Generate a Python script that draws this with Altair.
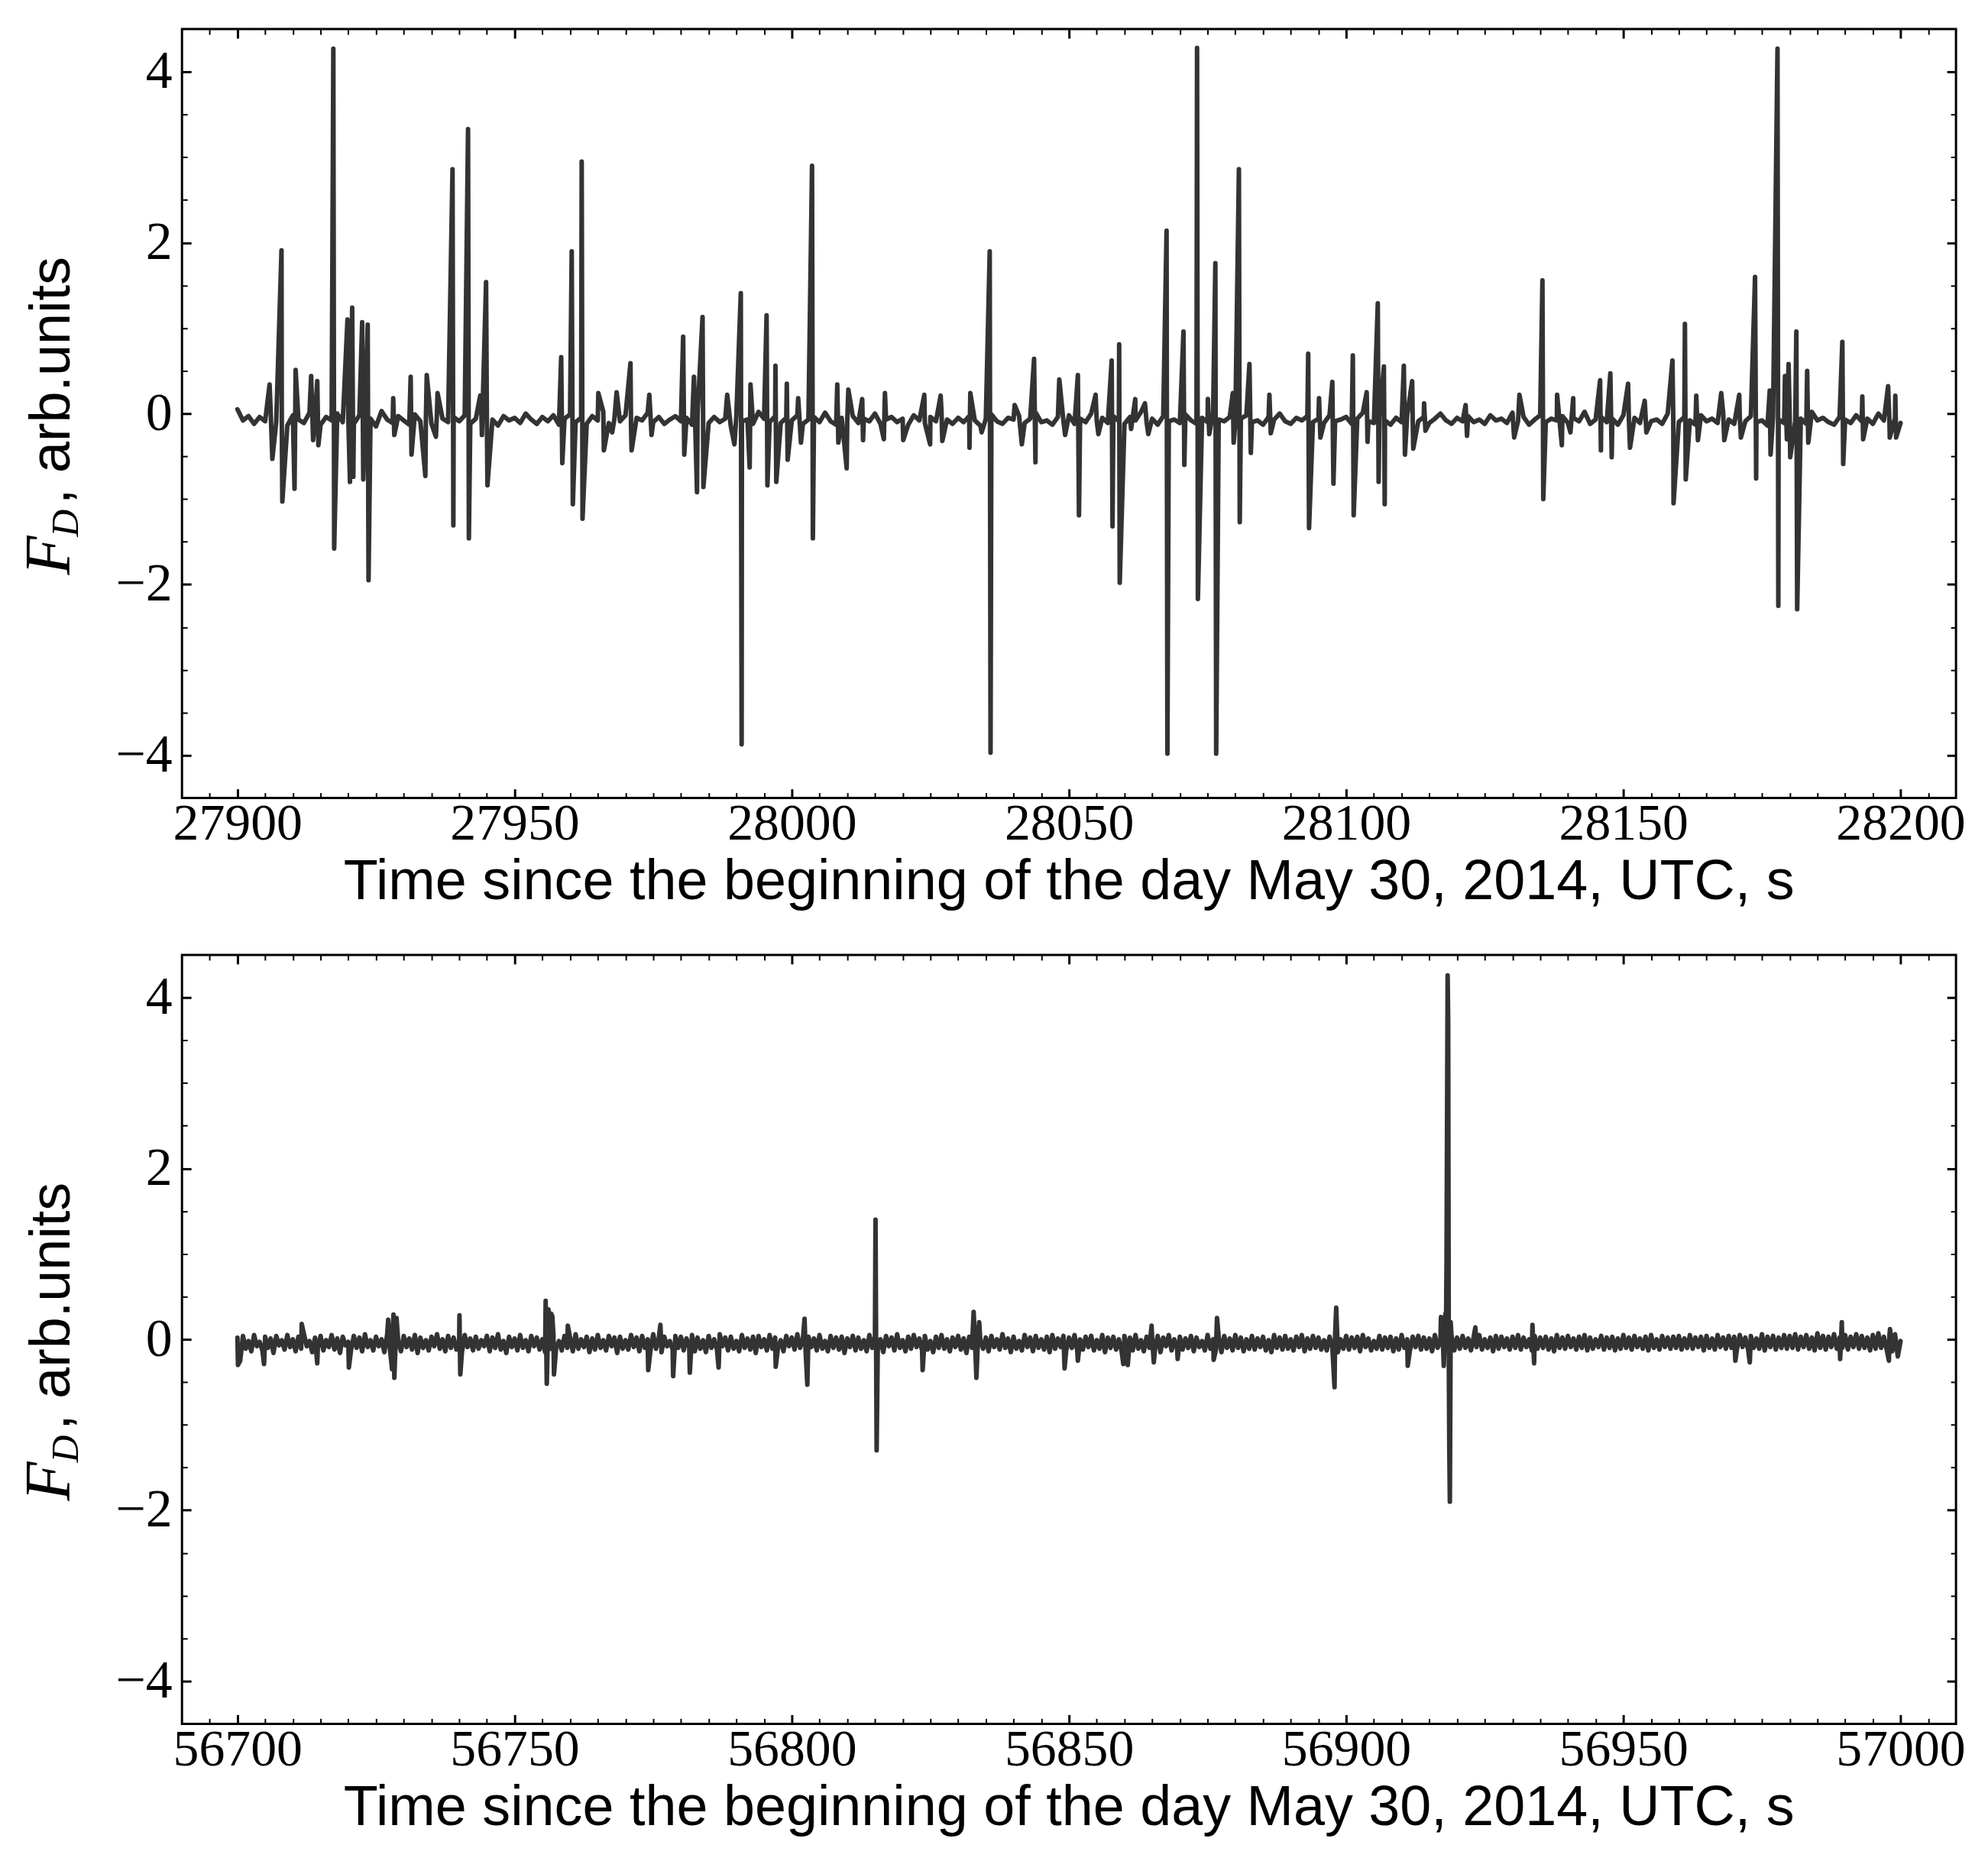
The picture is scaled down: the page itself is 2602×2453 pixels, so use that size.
import altair as alt
import pandas as pd

X_TITLE = "Time since the beginning of the day May 30, 2014, UTC, s"
Y_TICKS = [-4, -2, 0, 2, 4]
Y_MINOR = [-3.5, -3, -2.5, -1.5, -1, -0.5, 0.5, 1, 1.5, 2.5, 3, 3.5]

TOP_DOMAIN = [27890, 28210]
TOP_TICKS = [27900, 27950, 28000, 28050, 28100, 28150, 28200]
BOT_DOMAIN = [56690, 57010]
BOT_TICKS = [56700, 56750, 56800, 56850, 56900, 56950, 57000]

# ---- top panel: background signal, 1 s samples starting at 27900 s
TOP_T0 = 27900
TOP_STEP = 1.0
TOP_BASE = [
    0.05, -0.08, -0.03, -0.12, -0.04, -0.09, 0.02, -0.1, -0.05, -0.14, -0.02, -0.07, -0.11, 0.01, -0.06, -0.13, -0.04, -0.08, 0.0, -0.1,
    -0.05, -0.12, -0.02, -0.09, -0.06, -0.15, 0.03, -0.07, -0.11, -0.03, -0.08, -0.13, -0.01, -0.09, -0.05, -0.12, 0.02, -0.06, -0.1, -0.04,
    -0.09, -0.02, -0.12, -0.06, 0.01, -0.1, -0.07, -0.14, -0.03, -0.08, -0.05, -0.11, 0.0, -0.07, -0.12, -0.04, -0.09, -0.02, -0.13, -0.06,
    -0.01, -0.1, -0.05, -0.12, -0.03, -0.08, 0.02, -0.11, -0.06, -0.09, -0.02, -0.14, -0.05, -0.08, 0.01, -0.1, -0.04, -0.12, -0.07, -0.03,
    -0.09, -0.05, -0.13, 0.0, -0.08, -0.11, -0.04, -0.1, -0.06, -0.15, -0.02, -0.09, -0.07, -0.12, 0.02, -0.06, -0.1, -0.03, -0.11, -0.05,
    -0.08, -0.02, -0.12, -0.07, -0.04, -0.1, 0.01, -0.09, -0.13, -0.05, -0.08, -0.03, -0.11, -0.06, -0.09, 0.0, -0.12, -0.07, -0.04, -0.1,
    -0.06, -0.13, -0.02, -0.08, -0.11, -0.04, -0.09, 0.02, -0.07, -0.12, -0.05, -0.1, -0.03, -0.08, -0.14, -0.06, -0.01, -0.09, -0.12, -0.05,
    -0.07, -0.03, -0.11, -0.06, 0.01, -0.1, -0.08, -0.13, -0.04, -0.09, -0.02, -0.12, -0.06, -0.1, 0.0, -0.08, -0.05, -0.11, -0.03, -0.09,
    -0.12, -0.04, -0.08, 0.02, -0.1, -0.06, -0.13, -0.03, -0.09, -0.07, -0.11, -0.01, -0.08, -0.12, -0.05, -0.1, 0.01, -0.07, -0.09, -0.04,
    -0.11, -0.06, -0.02, -0.1, -0.08, -0.13, -0.04, -0.07, 0.0, -0.09, -0.12, -0.05, -0.08, -0.03, -0.1, -0.06, -0.11, -0.02, -0.09, -0.07,
    -0.04, -0.12, -0.06, 0.01, -0.09, -0.11, -0.03, -0.08, -0.13, -0.05, -0.1, -0.02, -0.07, -0.09, -0.04, -0.11, -0.06, 0.0, -0.08, -0.12,
    -0.05, -0.09, -0.03, -0.1, -0.07, -0.12, -0.02, -0.08, -0.06, -0.11, 0.01, -0.09, -0.04, -0.13, -0.07, -0.02, -0.1, -0.06, -0.08, -0.03,
    -0.11, -0.05, -0.09, 0.02, -0.12, -0.07, -0.04, -0.1, -0.06, -0.13, -0.02, -0.08, -0.05, -0.11, -0.03, -0.09, -0.07, -0.12, 0.0, -0.06,
    -0.1, -0.04, -0.08, -0.13, -0.02, -0.09, -0.06, -0.11, 0.01, -0.07, -0.12, -0.05, -0.09, -0.03, -0.1, -0.08, -0.14, -0.04, -0.07, -0.11,
    -0.03, -0.09, -0.06, -0.12, 0.02, -0.08, -0.05, -0.1, -0.13, -0.04, -0.07, -0.11, -0.02, -0.09, -0.06, -0.12, 0.0, -0.08, -0.1, -0.05,
    -0.11,
]

# ---- top panel: impulses (time s, value)
TOP_SPIKES = [
    (27905.8, 0.34), (27906.3, -0.53), (27907.95, 1.91), (27908.1, -1.03), (27910.3, -0.88), (27910.5, 0.51),
    (27913.3, 0.44), (27913.65, -0.31), (27914.4, 0.38), (27914.6, -0.37), (27917.3, 4.27), (27917.45, -1.58),
    (27919.85, 1.10), (27920.3, -0.80), (27920.7, 1.24), (27920.9, -0.74), (27922.5, 1.07), (27922.7, -0.77),
    (27923.5, 1.04), (27923.65, -1.95), (27928.1, 0.18), (27928.3, -0.25), (27931.25, 0.43), (27931.4, -0.48),
    (27933.9, -0.73), (27934.15, 0.45), (27935.8, -0.27), (27936.1, 0.24), (27938.8, 2.86), (27938.95, -1.31),
    (27941.6, 3.33), (27941.75, -1.46), (27943.8, 0.21), (27944.1, -0.25), (27944.85, 1.54), (27945.1, -0.84),
    (27958.4, 0.66), (27958.6, -0.58), (27960.3, 1.90), (27960.5, -1.06), (27962.1, 2.95), (27962.25, -1.23),
    (27965.1, 0.24), (27966.1, -0.43), (27967.6, -0.22), (27968.4, 0.25), (27970.9, 0.59), (27971.1, -0.43),
    (27974.3, 0.22), (27974.7, -0.25), (27980.4, 0.90), (27980.6, -0.48), (27982.35, 0.43), (27982.9, -0.92),
    (27983.9, 1.13), (27984.05, -0.86), (27988.35, 0.22), (27989.65, -0.36), (27990.8, 1.41), (27990.95, -3.87),
    (27992.4, -0.63), (27992.55, 0.34), (27995.45, 1.15), (27995.6, -0.84), (27997.05, 0.56), (27997.2, -0.80),
    (27999.1, 0.35), (27999.25, -0.54), (28001.15, 0.18), (28001.65, -0.34), (28003.65, 2.90), (28003.8, -1.46),
    (28008.2, 0.34), (28008.4, -0.34), (28009.9, -0.64), (28010.2, 0.28), (28012.7, 0.17), (28012.85, -0.31),
    (28016.6, -0.30), (28016.8, 0.24), (28020.1, -0.31), (28023.9, 0.22), (28024.95, -0.36), (28026.85, 0.21),
    (28027.15, -0.32), (28032.05, -0.40), (28032.2, 0.24), (28034.25, -0.22), (28035.7, 1.90), (28035.85, -3.97),
    (28040.2, 0.10), (28041.5, -0.36), (28043.7, 0.64), (28043.95, -0.57), (28048.25, 0.40), (28049.3, -0.25),
    (28051.6, 0.45), (28051.8, -1.19), (28054.8, 0.22), (28055.3, -0.24), (28057.7, 0.62), (28057.85, -1.32),
    (28059.05, 0.81), (28059.15, -1.98), (28061.2, -0.18), (28061.95, 0.17), (28063.7, 0.12), (28064.3, -0.24),
    (28067.6, 2.14), (28067.75, -3.98), (28070.65, 0.96), (28070.8, -0.60), (28073.1, 4.28), (28073.25, -2.17),
    (28075.05, 0.17), (28075.3, -0.24), (28076.4, 1.76), (28076.55, -3.98), (28079.55, 0.24), (28079.7, -0.34),
    (28080.65, 2.86), (28080.8, -1.27), (28082.55, 0.58), (28082.8, -0.46), (28086.15, 0.22), (28086.4, -0.23),
    (28093.15, 0.70), (28093.3, -1.34), (28095.1, 0.18), (28095.35, -0.28), (28097.5, 0.37), (28097.7, -0.82),
    (28101.2, 0.68), (28101.35, -1.19), (28103.7, 0.25), (28103.85, -0.33), (28105.7, 1.29), (28105.85, -0.80),
    (28106.8, 0.55), (28106.95, -1.06), (28110.4, 0.56), (28110.6, -0.48), (28111.9, 0.38), (28112.1, -0.41),
    (28114.05, 0.12), (28114.3, -0.20), (28121.55, 0.10), (28121.8, -0.26), (28130.3, -0.28), (28131.25, 0.22),
    (28135.4, 1.56), (28135.55, -1.00), (28138.05, 0.22), (28138.9, -0.37), (28140.45, -0.22), (28140.95, 0.18),
    (28145.8, 0.39), (28145.95, -0.43), (28147.65, 0.47), (28147.9, -0.51), (28150.85, 0.35), (28151.2, -0.40),
    (28153.85, 0.15), (28154.15, -0.22), (28158.85, 0.62), (28159.05, -1.05), (28161.1, 1.05), (28161.25, -0.77),
    (28163.15, 0.21), (28163.45, -0.31), (28167.65, 0.24), (28168.2, -0.31), (28170.9, 0.22), (28171.2, -0.28),
    (28173.75, 1.60), (28173.95, -0.76), (28176.4, 0.27), (28176.55, -0.48), (28177.8, 4.27), (28177.95, -2.25),
    (28179.15, 0.44), (28179.5, -0.30), (28179.8, 0.58), (28180.1, -0.51), (28181.2, 0.96), (28181.35, -2.29),
    (28183.15, 0.50), (28183.35, -0.34), (28189.5, 0.84), (28189.65, -0.59), (28193.1, 0.20), (28193.25, -0.30),
    (28197.75, 0.32), (28198.05, -0.28), (28199.05, 0.21), (28199.2, -0.28),
]

# ---- bottom panel: background signal, 0.5 s samples starting at 56700 s
BOT_T0 = 56700
BOT_STEP = 0.5
BOT_BASE = [
    0.02, -0.25, 0.04, -0.11, -0.02, -0.14, 0.05, -0.08, -0.03, -0.13, 0.03, -0.1, 0.01, -0.16, 0.04, -0.07, -0.01, -0.12, 0.05, -0.09,
    0.0, -0.14, 0.03, -0.11, 0.06, -0.08, -0.02, -0.15, 0.02, -0.1, 0.04, -0.13, -0.01, -0.09, 0.05, -0.12, 0.01, -0.16, 0.03, -0.07,
    -0.03, -0.12, 0.04, -0.1, 0.02, -0.14, 0.06, -0.09, -0.01, -0.13, 0.03, -0.08, 0.0, -0.15, 0.05, -0.11, 0.02, -0.1, -0.02, -0.14,
    0.04, -0.09, 0.01, -0.12, 0.05, -0.16, 0.02, -0.1, -0.01, -0.13, 0.03, -0.08, 0.06, -0.11, 0.0, -0.14, 0.04, -0.1, 0.02, -0.12,
    -0.02, -0.15, 0.05, -0.09, 0.01, -0.13, 0.03, -0.11, -0.01, -0.08, 0.04, -0.14, 0.02, -0.1, 0.06, -0.12, -0.02, -0.16, 0.03, -0.09,
    0.01, -0.13, 0.05, -0.1, -0.01, -0.14, 0.04, -0.08, 0.02, -0.12, 0.0, -0.15, 0.03, -0.11, 0.05, -0.09, -0.02, -0.13, 0.04, -0.1,
    0.02, -0.14, 0.06, -0.11, 0.0, -0.09, 0.03, -0.15, 0.01, -0.12, 0.05, -0.1, -0.01, -0.13, 0.04, -0.08, 0.02, -0.16, 0.03, -0.11,
    -0.01, -0.12, 0.05, -0.09, 0.02, -0.14, 0.04, -0.1, 0.0, -0.13, 0.06, -0.11, 0.01, -0.15, 0.03, -0.08, -0.02, -0.12, 0.04, -0.1,
    0.03, -0.13, 0.01, -0.09, 0.05, -0.14, 0.02, -0.11, -0.01, -0.15, 0.04, -0.1, 0.0, -0.12, 0.06, -0.08, 0.02, -0.13, 0.03, -0.11,
    -0.02, -0.14, 0.05, -0.1, 0.01, -0.12, 0.03, -0.16, 0.04, -0.09, 0.0, -0.13, 0.05, -0.11, 0.02, -0.1, -0.01, -0.14, 0.04, -0.08,
    0.02, -0.12, 0.06, -0.1, 0.0, -0.15, 0.03, -0.09, 0.01, -0.13, 0.05, -0.11, -0.02, -0.14, 0.04, -0.1, 0.02, -0.12, 0.03, -0.16,
    0.01, -0.09, 0.04, -0.13, 0.02, -0.11, -0.01, -0.14, 0.05, -0.1, 0.03, -0.12, 0.0, -0.15, 0.04, -0.08, 0.02, -0.13, 0.06, -0.1,
    -0.01, -0.14, 0.03, -0.11, 0.05, -0.09, 0.01, -0.13, 0.04, -0.12, -0.02, -0.15, 0.03, -0.1, 0.05, -0.11, 0.0, -0.14, 0.02, -0.09,
    0.04, -0.12, 0.01, -0.16, 0.03, -0.1, 0.05, -0.13, -0.01, -0.11, 0.02, -0.14, 0.04, -0.09, 0.0, -0.12, 0.06, -0.1, 0.01, -0.15,
    0.03, -0.11, -0.02, -0.13, 0.05, -0.09, 0.02, -0.14, 0.04, -0.1, 0.0, -0.12, 0.03, -0.15, 0.05, -0.11, 0.01, -0.09, 0.04, -0.13,
    0.02, -0.1, 0.05, -0.14, 0.0, -0.12, 0.03, -0.09, 0.04, -0.13, -0.01, -0.11, 0.05, -0.15, 0.02, -0.1, 0.03, -0.12, 0.0, -0.14,
    0.04, -0.09, 0.02, -0.13, 0.05, -0.11, -0.01, -0.14, 0.03, -0.1, 0.01, -0.12, 0.04, -0.15, 0.02, -0.08, 0.05, -0.13, 0.0, -0.11,
    0.03, -0.12, 0.01, -0.1, 0.04, -0.14, 0.02, -0.09, -0.02, -0.13, 0.05, -0.11, 0.0, -0.12, 0.03, -0.15, 0.04, -0.1, 0.01, -0.13,
    0.05, -0.1, 0.02, -0.14, 0.0, -0.11, 0.04, -0.12, 0.01, -0.09, 0.03, -0.13, -0.01, -0.15, 0.05, -0.1, 0.02, -0.12, 0.04, -0.11,
    0.0, -0.13, 0.03, -0.09, 0.05, -0.14, 0.01, -0.11, 0.04, -0.1, 0.02, -0.12, -0.01, -0.13, 0.03, -0.09, 0.05, -0.15, 0.0, -0.11,
    0.04, -0.12, 0.02, -0.1, 0.03, -0.14, 0.05, -0.09, 0.01, -0.13, -0.02, -0.11, 0.04, -0.12, 0.02, -0.1, 0.03, -0.14, 0.01, -0.12,
    0.05, -0.1, 0.0, -0.13, 0.03, -0.09, 0.04, -0.12, 0.02, -0.11, 0.01, -0.14, 0.05, -0.1, -0.01, -0.12, 0.03, -0.09, 0.04, -0.13,
    0.02, -0.11, 0.04, -0.1, 0.01, -0.13, 0.03, -0.09, 0.05, -0.12, 0.0, -0.1, 0.02, -0.14, 0.04, -0.11, 0.03, -0.09, 0.01, -0.12,
    0.03, -0.1, 0.05, -0.12, 0.02, -0.09, 0.0, -0.13, 0.04, -0.11, 0.02, -0.1, 0.03, -0.12, 0.01, -0.14, 0.05, -0.1, 0.02, -0.11,
    0.04, -0.09, 0.01, -0.12, 0.03, -0.1, 0.05, -0.13, 0.02, -0.11, 0.0, -0.09, 0.04, -0.12, 0.02, -0.1, 0.03, -0.13, 0.01, -0.11,
    0.05, -0.1, 0.02, -0.12, 0.04, -0.09, 0.01, -0.11, 0.03, -0.13, 0.05, -0.1, 0.0, -0.12, 0.04, -0.09, 0.02, -0.11, 0.03, -0.1,
    0.04, -0.12, 0.01, -0.1, 0.05, -0.11, 0.02, -0.09, 0.03, -0.13, 0.04, -0.1, 0.01, -0.12, 0.05, -0.09, 0.02, -0.11, 0.04, -0.1,
    0.03, -0.11, 0.05, -0.09, 0.02, -0.12, 0.04, -0.1, 0.01, -0.11, 0.06, -0.13, 0.03, -0.09, 0.04, -0.12, 0.02, -0.1, 0.05, -0.11,
    0.04, -0.1, 0.06, -0.12, 0.03, -0.09, 0.05, -0.11, 0.02, -0.13, 0.07, -0.1, 0.04, -0.12, 0.03, -0.09, 0.06, -0.11, 0.02, -0.1,
    0.05, -0.12, 0.03, -0.09, 0.06, -0.11, 0.04, -0.1, 0.02, -0.13, 0.05, -0.11, 0.07, -0.1, 0.03, -0.12, 0.05, -0.14, 0.06, -0.2,
    -0.02,
]

# ---- bottom panel: impulses (time s, value)
BOT_SPIKES = [
    (56700.1, -0.30), (56704.8, -0.29), (56711.6, 0.18), (56714.4, -0.28), (56720.1, -0.33),
    (56727.2, 0.23), (56727.9, -0.35), (56728.15, 0.29), (56728.3, -0.45), (56728.7, 0.25),
    (56740.05, 0.28), (56740.2, -0.41), (56755.6, 0.45), (56755.8, -0.52), (56756.1, 0.35),
    (56756.6, 0.30), (56756.8, 0.27), (56757.1, -0.41), (56759.6, 0.16), (56774.1, -0.36),
    (56776.3, 0.17), (56778.6, -0.43), (56781.6, -0.39), (56786.8, -0.33), (56797.1, -0.32),
    (56802.3, 0.24), (56802.8, -0.53), (56815.1, 1.40), (56815.3, -1.30), (56823.6, -0.36),
    (56832.8, 0.32), (56833.3, -0.45), (56833.8, 0.20), (56849.2, -0.34), (56851.6, -0.25),
    (56859.8, -0.29), (56860.6, -0.30), (56864.9, 0.16), (56865.3, -0.27), (56869.6, -0.23),
    (56876.1, -0.24), (56876.7, 0.25), (56897.9, -0.56), (56898.2, 0.37), (56911.1, -0.31),
    (56917.1, 0.26), (56917.6, -0.31), (56917.9, 0.30), (56918.1, 0.90), (56918.3, 4.26),
    (56918.4, 3.70), (56918.6, -1.27), (56918.7, -1.90), (56918.85, 0.20), (56923.3, 0.14),
    (56933.6, 0.17), (56933.9, -0.28), (56970.2, -0.25), (56972.8, -0.27), (56989.1, -0.23),
    (56989.4, 0.20), (56997.9, -0.25), (56998.1, 0.12),
]

SERIF = "Liberation Serif"
SANS = "Liberation Sans"
W, H = 2330, 1010
ONE = pd.DataFrame({"k": [0]})


def build_series(t0, step, base, spikes):
    rows = [(t0 + i * step, v) for i, v in enumerate(base)] + list(spikes)
    rows.sort(key=lambda r: r[0])
    return pd.DataFrame(rows, columns=["t", "v"])


def minor_ticks(domain, majors, step):
    out = []
    v = domain[0] + step
    while v < domain[1] - 1e-9:
        if all(abs(v - m) > 1e-9 for m in majors):
            out.append(v)
        v += step
    return out


def text_layer(text, font, size, x, y, style="normal", angle=0, align="left",
               baseline="alphabetic", dx=0, dy=0):
    return alt.Chart(ONE).mark_text(
        text=text, font=font, fontSize=size, fontStyle=style, angle=angle,
        align=align, baseline=baseline, dx=dx, dy=dy, color="black"
    ).encode(x=alt.value(x), y=alt.value(y))


def panel(df, xdom, xmajor):
    xminor = minor_ticks(xdom, xmajor, 5)
    xs = alt.Scale(domain=xdom, nice=False, zero=False)
    ys = alt.Scale(domain=[-4.5, 4.5], nice=False, zero=False)

    line = alt.Chart(df).mark_line(
        color="#333333", strokeWidth=6, strokeJoin="round", strokeCap="round"
    ).encode(
        x=alt.X("t:Q", scale=xs, axis=alt.Axis(
            orient="bottom", values=xmajor, format="d", ticks=False, tickSize=0,
            domain=False, grid=False, labelFont=SERIF, labelFontSize=68,
            labelColor="black", labelPadding=0, labelFlush=False,
            labelOverlap=False, title=None)),
        y=alt.Y("v:Q", scale=ys, axis=alt.Axis(
            orient="left", values=Y_TICKS, format="d", ticks=False, tickSize=0,
            domain=False, grid=False, labelFont=SERIF, labelFontSize=70,
            labelColor="black", labelPadding=13, labelOverlap=False, title=None)),
    )

    helper = pd.DataFrame({"t": xdom, "v": [-4.5, 4.5]})

    def ticks(ox, oy, vx, vy, size, width):
        return alt.Chart(helper).mark_point(opacity=0).encode(
            x=alt.X("t:Q", scale=xs, axis=alt.Axis(
                orient=ox, values=vx, offset=-size, tickSize=size, tickWidth=width,
                tickColor="black", labels=False, domain=False, grid=False, title=None)),
            y=alt.Y("v:Q", scale=ys, axis=alt.Axis(
                orient=oy, values=vy, offset=-size, tickSize=size, tickWidth=width,
                tickColor="black", labels=False, domain=False, grid=False, title=None)),
        )

    t1 = ticks("bottom", "left", xmajor, Y_TICKS, 12, 3)
    t2 = ticks("top", "right", xmajor, Y_TICKS, 12, 3)
    t3 = ticks("bottom", "left", xminor, Y_MINOR, 7, 2)
    t4 = ticks("top", "right", xminor, Y_MINOR, 7, 2)

    y0 = 717
    yF = text_layer("F", SERIF, 84, -148, y0, style="italic", angle=270)
    yD = text_layer("D", SERIF, 50, -148, y0, style="italic", angle=270, dx=50, dy=11)
    yR = text_layer(", arb.units", SANS, 74, -148, y0, angle=270, dx=93)
    xt = text_layer(X_TITLE, SANS, 74, W / 2, H + 133, align="center")

    return alt.layer(line, t1, t2, t3, t4, yF, yD, yR, xt).resolve_axis(
        x="independent", y="independent"
    ).properties(width=W, height=H)


top_df = build_series(TOP_T0, TOP_STEP, TOP_BASE, TOP_SPIKES)
bot_df = build_series(BOT_T0, BOT_STEP, BOT_BASE, BOT_SPIKES)

chart = alt.vconcat(
    panel(top_df, TOP_DOMAIN, TOP_TICKS),
    panel(bot_df, BOT_DOMAIN, BOT_TICKS),
    spacing=51,
).properties(
    padding={"left": 14, "top": 21, "right": 20, "bottom": 20},
    background="white",
).configure_view(stroke="black", strokeWidth=3)

chart.save("out.html", embed_options={"renderer": "svg", "actions": False})
